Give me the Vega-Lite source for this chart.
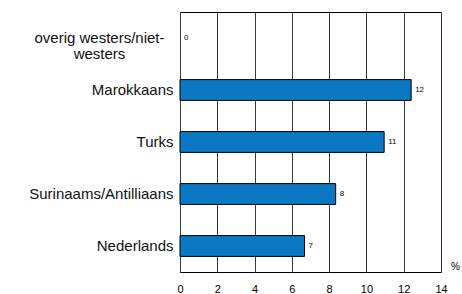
{
  "$schema": "https://vega.github.io/schema/vega-lite/v6.json",
  "width": 261,
  "height": 260,
  "autosize": "none",
  "padding": {"left": 180, "top": 12, "right": 21, "bottom": 22},
  "background": "white",
  "config": {
    "view": {"stroke": "black", "strokeWidth": 1},
    "font": "Liberation Sans"
  },
  "data": {
    "values": [
      {"groep": "overig westers/niet-westers", "pct": 0, "label": "0"},
      {"groep": "Marokkaans", "pct": 12.4, "label": "12"},
      {"groep": "Turks", "pct": 10.95, "label": "11"},
      {"groep": "Surinaams/Antilliaans", "pct": 8.35, "label": "8"},
      {"groep": "Nederlands", "pct": 6.68, "label": "7"}
    ]
  },
  "encoding": {
    "y": {
      "field": "groep",
      "type": "nominal",
      "sort": null,
      "scale": {"paddingInner": 0.6, "paddingOuter": 0.3},
      "axis": {
        "title": null,
        "domain": false,
        "ticks": false,
        "labelFont": "Liberation Sans",
        "labelFontSize": 15,
        "labelFontWeight": "normal",
        "labelColor": "#111111",
        "labelPadding": {"expr": "datum.value == 'overig westers/niet-westers' ? 81 : 7"},
        "labelAlign": {"expr": "datum.value == 'overig westers/niet-westers' ? 'center' : 'right'"},
        "labelLineHeight": 16,
        "labelLimit": 300,
        "labelExpr": "datum.value == 'overig westers/niet-westers' ? ['overig westers/niet-', 'westers'] : datum.label"
      }
    },
    "x": {
      "field": "pct",
      "type": "quantitative",
      "scale": {"domain": [0, 14], "nice": false},
      "axis": {
        "values": [0, 2, 4, 6, 8, 10, 12, 14],
        "title": "%",
        "titleFont": "Liberation Sans",
        "titleFontWeight": "normal",
        "titleFontSize": 10,
        "titleColor": "black",
        "titleX": 275,
        "titleY": -1,
        "titleAlign": "center",
        "titleBaseline": "bottom",
        "domain": false,
        "ticks": false,
        "grid": true,
        "gridColor": "#3a3a3a",
        "gridOpacity": 1,
        "gridWidth": 1,
        "labelFont": "Liberation Sans",
        "labelFontSize": 11,
        "labelFontWeight": "normal",
        "labelColor": "black",
        "labelPadding": 11,
        "labelFlush": false
      }
    }
  },
  "layer": [
    {
      "mark": {"type": "bar", "color": "#0a78c2", "stroke": "black", "strokeWidth": 1},
      "encoding": {
        "strokeOpacity": {"condition": {"test": "datum.pct == 0", "value": 0}, "value": 1}
      }
    },
    {
      "mark": {"type": "text", "align": "left", "baseline": "middle", "dx": 4, "fontSize": 8, "font": "Liberation Sans", "color": "black"},
      "encoding": {"text": {"field": "label"}}
    }
  ]
}
